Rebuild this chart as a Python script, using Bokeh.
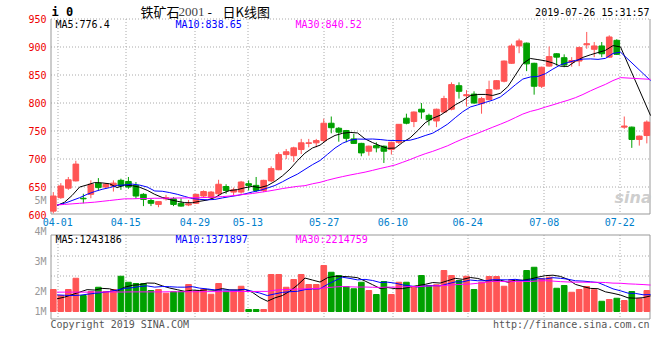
import math
import pandas as pd
from bokeh.plotting import figure
from bokeh.models import Range1d, ColumnDataSource
from bokeh.core.properties import value
from bokeh.embed import file_html
from bokeh.resources import INLINE

# ---------------- data ----------------
holidays = ["2019-04-05", "2019-05-01", "2019-05-02", "2019-05-03", "2019-06-07"]
dates = [d.strftime("%m-%d") for d in pd.bdate_range("2019-04-01", "2019-07-26")
         if d.strftime("%Y-%m-%d") not in holidays]

open_ = [606, 630, 647, 660, 629, 636, 656, 649, 651, 661,
         659, 652, 636, 625, 618, 628, 628, 620, 617, 620,
         633, 630, 637, 650, 640, 640, 655, 652, 643, 660,
         680, 707, 705, 716, 727, 728, 732, 763, 754, 750,
         735, 727, 713, 723, 722, 716, 729, 772, 766, 788,
         777, 767, 783, 788, 830, 812, 815, 798, 805, 824,
         838, 870, 901, 906, 870, 829, 865, 887, 880, 872,
         874, 903, 895, 901, 881, 911, 756, 756, 734, 741]
close = [633, 651, 662, 690, 628, 654, 648, 654, 656, 651,
         649, 633, 627, 620, 623, 630, 618, 615, 619, 636,
         641, 640, 654, 643, 644, 658, 652, 643, 661, 682,
         707, 712, 719, 728, 728, 732, 763, 755, 747, 736,
         727, 710, 722, 719, 713, 729, 761, 763, 783, 783,
         769, 788, 807, 832, 820, 814, 799, 807, 823, 839,
         874, 901, 910, 869, 829, 863, 882, 881, 867, 875,
         898, 905, 901, 887, 917, 886, 758, 734, 740, 765]
high = [640, 656, 667, 696, 637, 661, 665, 656, 661, 664,
        667, 658, 638, 628, 624, 635, 631, 629, 626, 637,
        643, 642, 662, 654, 648, 660, 661, 667, 662, 686,
        711, 717, 721, 735, 735, 735, 771, 775, 756, 751,
        744, 728, 723, 729, 723, 730, 761, 780, 784, 799,
        780, 789, 812, 836, 836, 822, 820, 810, 839, 840,
        875, 905, 914, 907, 871, 864, 900, 888, 886, 881,
        900, 926, 908, 908, 920, 913, 775, 757, 741, 768]
low = [602, 628, 644, 659, 620, 629, 643, 646, 641, 644,
       646, 628, 615, 615, 613, 625, 615, 614, 615, 619,
       631, 628, 634, 637, 634, 637, 643, 640, 640, 658,
       679, 699, 694, 708, 720, 720, 729, 745, 730, 729,
       726, 704, 705, 711, 692, 707, 726, 761, 756, 771,
       759, 756, 781, 786, 807, 793, 798, 780, 804, 823,
       836, 869, 888, 856, 814, 826, 864, 866, 863, 864,
       865, 896, 881, 881, 880, 885, 753, 719, 723, 727]
# volume, millions of lots
volume = [1.76, 1.28, 1.76, 2.66, 1.28, 1.60, 1.94, 1.60, 1.76, 2.82,
          2.34, 2.24, 2.24, 1.68, 1.76, 1.46, 1.58, 1.58, 2.16, 1.62,
          1.76, 1.38, 2.24, 1.62, 1.62, 2.02, 0.16, 0.16, 0.16, 2.96,
          2.96, 1.94, 2.56, 2.96, 2.16, 2.16, 3.68, 3.14, 2.88, 2.00,
          1.82, 2.34, 1.68, 1.36, 2.40, 1.36, 2.34, 2.34, 1.94, 2.88,
          2.08, 2.14, 3.28, 2.88, 2.48, 2.82, 1.76, 2.34, 2.80, 2.80,
          2.02, 2.56, 2.34, 3.28, 3.54, 2.62, 2.74, 1.86, 2.08, 1.54,
          1.76, 2.00, 1.74, 0.82, 0.96, 1.06, 0.88, 1.60, 1.02, 1.68]

# moving-average values before a full window exists
ma5_head = [616, 622, 634, 649]
ma10_head = [617, 620, 625, 630, 636, 641, 645, 648, 652]
ma30_head = [617, 618, 619, 620, 621, 622, 623.5, 625, 626.5, 628,
             628, 628.5, 628.5, 629, 629, 629, 629.5, 629.5, 630, 630,
             630.5, 631, 632, 633, 634.5, 636, 637.5, 639.5, 641.5]
vma5_head = [1.02, 1.15, 1.35, 1.55]
vma10_head = [1.33, 1.30, 1.28, 1.30, 1.38, 1.45, 1.52, 1.60, 1.72]
vma30_head = [1.55, 1.55, 1.55, 1.55, 1.55, 1.56, 1.56, 1.56, 1.56, 1.56,
              1.57, 1.57, 1.57, 1.57, 1.57, 1.58, 1.58, 1.58, 1.58, 1.58,
              1.59, 1.59, 1.59, 1.59, 1.60, 1.60, 1.60, 1.61, 1.61]
ma_missing = [76, 77, 78]          # days without a price-MA point in the chart

title_parts = ["铁矿石", "2001", "-", "日K线图"]
stamp_text = "2019-07-26 15:31:57"
price_ma_labels = ["MA5:776.4", "MA10:838.65", "MA30:840.52"]
vol_ma_labels = ["MA5:1243186", "MA10:1371897", "MA30:2214759"]
price_ticks = [600, 650, 700, 750, 800, 850, 900, 950]
date_ticks = ["04-01", "04-15", "04-29", "05-13", "05-27", "06-10", "06-24", "07-08", "07-22"]
vol_tick_labels = ["5M", "4M", "3M", "2M", "1M"]

# ---------------- layout / style ----------------
W, H = 652, 352
UP, DOWN = "#ff5555", "#00a000"
MA_COLORS = ["#000000", "#0000ff", "#ff00ff"]
MONO = "DejaVu Sans Mono"
X_LO, X_HI = -0.373, 79.49           # index range of the price frame (px 50..650)
PX_PER_X = 600.0 / (X_HI - X_LO)
PY_PER_P = 196.0 / 350.0             # price 950 at py 18, 600 at py 214
VOL_BASE_PY, PY_PER_V = 311.0, 12.5  # volume 0 at py 311, 12.5 px per million
MA_SHIFT = 0.5
tick_nudge = [0.6, 0.65, -0.15, -0.1, 0.05, 0.2, 0.15, 0.35, 0.4]
vol_grid_py = [255, 275]
vol_label_py = [200, 230.7, 260.7, 290.7, 311]
PRICE_BOX = (50, 649, 18, 213)       # left, right, top, bottom pixel rows/cols
VOL_BOX = (50, 649, 234, 318)
GRID = "#aaaaaa"
BORDER = "#999999"


def X(px):
    return X_LO + (px - 50) / PX_PER_X


def P(py):
    return 950 - (py - 18) / PY_PER_P


def V(py):
    return (VOL_BASE_PY - py) / PY_PER_V


def rolling(vals, w, head):
    return head + [sum(vals[i - w + 1:i + 1]) / w for i in range(w - 1, len(vals))]


n = len(close)
idx = list(range(n))
colors = [UP if c >= o else DOWN for o, c in zip(open_, close)]
src = ColumnDataSource(dict(
    x=idx, high=high, low=low,
    top=[max(o, c) for o, c in zip(open_, close)],
    bottom=[min(o, c) for o, c in zip(open_, close)],
    color=colors, vol=volume))

ma = [rolling(close, 5, ma5_head), rolling(close, 10, ma10_head), rolling(close, 30, ma30_head)]
vma = [rolling(volume, 5, vma5_head), rolling(volume, 10, vma10_head), rolling(volume, 30, vma30_head)]
tick_pos = [dates.index(d) + s for d, s in zip(date_ticks, tick_nudge)]

p = figure(width=W, height=H, output_backend="svg", toolbar_location=None,
           x_range=Range1d(X(0), X(W)), y_range=Range1d(P(H), P(0)),
           x_axis_location=None, y_axis_location=None,
           min_border=0, min_border_left=0, min_border_right=0,
           min_border_top=0, min_border_bottom=0, outline_line_color=None,
           background_fill_color="white", border_fill_color="white")
p.extra_y_ranges = {"vol": Range1d(V(H), V(0))}
for g in p.grid:
    g.visible = False


def crisp(v):
    return math.floor(v) + 0.5


# ---------------- grids and frame lines ----------------
pl, pr, pt, pb = PRICE_BOX
vl, vr, vt, vb = VOL_BOX
grid_px = [crisp(50 + (t - X_LO) * PX_PER_X) for t in tick_pos]
p.segment(x0=[X(g) for g in grid_px], x1=[X(g) for g in grid_px],
          y0=P(pt + 0.5), y1=P(pb + 0.5), line_color=GRID, line_dash="1 2", line_width=1)
p.segment(x0=[X(g) for g in grid_px], x1=[X(g) for g in grid_px],
          y0=V(vt + 0.5), y1=V(vb + 0.5), line_color=GRID, line_dash="1 2", line_width=1,
          y_range_name="vol")
hgrid = [P(crisp(18 + (950 - t) * PY_PER_P)) for t in price_ticks[1:]]
p.segment(x0=X(pl + 0.5), x1=X(pr + 0.5), y0=hgrid, y1=hgrid,
          line_color=GRID, line_dash="1 2", line_width=1)
p.segment(x0=X(vl + 0.5), x1=X(vr + 0.5), y0=[V(g + 0.5) for g in vol_grid_py],
          y1=[V(g + 0.5) for g in vol_grid_py], line_color=GRID, line_dash="1 2",
          line_width=1, y_range_name="vol")
# price frame: left, bottom, right (top edge is the dotted 950 line)
p.segment(x0=[X(pl + 0.5), X(pl + 0.5), X(pr + 0.5)],
          x1=[X(pl + 0.5), X(pr + 0.5), X(pr + 0.5)],
          y0=[P(pt + 0.5), P(pb + 0.5), P(pt + 0.5)],
          y1=[P(pb + 0.5), P(pb + 0.5), P(pb + 0.5)], line_color=BORDER, line_width=1)
# volume frame
p.segment(x0=[X(vl + 0.5), X(vl + 0.5), X(vr + 0.5), X(vl + 0.5)],
          x1=[X(vr + 0.5), X(vl + 0.5), X(vr + 0.5), X(vr + 0.5)],
          y0=[V(vt + 0.5), V(vt + 0.5), V(vt + 0.5), V(vb + 0.5)],
          y1=[V(vt + 0.5), V(vb + 0.5), V(vb + 0.5), V(vb + 0.5)],
          line_color=BORDER, line_width=1, y_range_name="vol")

# ---------------- candles and MA lines ----------------
p.segment(x0="x", y0="high", x1="x", y1="low", color="color", line_width=1, source=src)
p.vbar(x="x", width=0.75, top="top", bottom="bottom", fill_color="color",
       line_color="color", line_width=1, source=src)
keep = [i for i in idx if i not in ma_missing]
for series, col in zip(ma, MA_COLORS):
    p.line([i + MA_SHIFT for i in keep], [series[i] for i in keep], line_color=col, line_width=1)

# ---------------- volume bars and MA lines ----------------
p.vbar(x="x", width=0.75, top="vol", bottom=0, fill_color="color", line_color="color",
       source=src, y_range_name="vol")
for series, col in zip(vma, MA_COLORS):
    p.line([i + MA_SHIFT for i in idx], series, line_color=col, line_width=1, y_range_name="vol")


# ---------------- texts ----------------
def txt(x, y, text, color="#000000", size="10px", font=MONO, align="left", style="normal",
        alpha=1.0, rng="default"):
    p.text(x=x, y=y, text=text, text_color=color, text_font_size=size,
           text_font=value(font), text_align=align, text_baseline="middle",
           text_font_style=style, text_alpha=alpha, y_range_name=rng)


txt([X(46)] * len(price_ticks), price_ticks, [str(t) for t in price_ticks],
    color="#ee0000", align="right")
txt(tick_pos, [P(221.5)] * len(tick_pos), date_ticks, color="#0080cc", align="center")
txt([X(46)] * len(vol_tick_labels), [V(y) for y in vol_label_py], vol_tick_labels,
    color="#999999", align="right", rng="vol")

txt([X(51)], [P(11)], ["i 0"], size="12px", style="bold")
txt([X(140)], [P(11)], [title_parts[0]], size="13px", font="Noto Sans CJK SC")
txt([X(178)], [P(11.5)], [title_parts[1]], color="#444444", size="13px", font="Liberation Serif")
txt([X(207)], [P(11)], [title_parts[2]], size="13px", font="Noto Sans CJK SC")
txt([X(222)], [P(11)], [title_parts[3]], size="13px", font="Noto Sans CJK SC")
txt([X(649)], [P(11.5)], [stamp_text], align="right")
txt([X(55), X(175), X(295)], [P(24)] * 3, price_ma_labels, color=MA_COLORS)
txt([X(55), X(175), X(295)], [V(238.5)] * 3, vol_ma_labels, color=MA_COLORS, rng="vol")
txt([X(614)], [P(197)], ["sina"], color="#c8c8c8", size="16px", font="DejaVu Sans",
    style="bold italic", alpha=0.9)
txt([X(50)], [V(323.5)], ["Copyright 2019 SINA.COM"], color="#555555", rng="vol")
txt([X(649)], [V(323.5)], ["http://finance.sina.com.cn"], color="#555555", align="right", rng="vol")

open("out.html", "w").write(file_html(p, INLINE))
